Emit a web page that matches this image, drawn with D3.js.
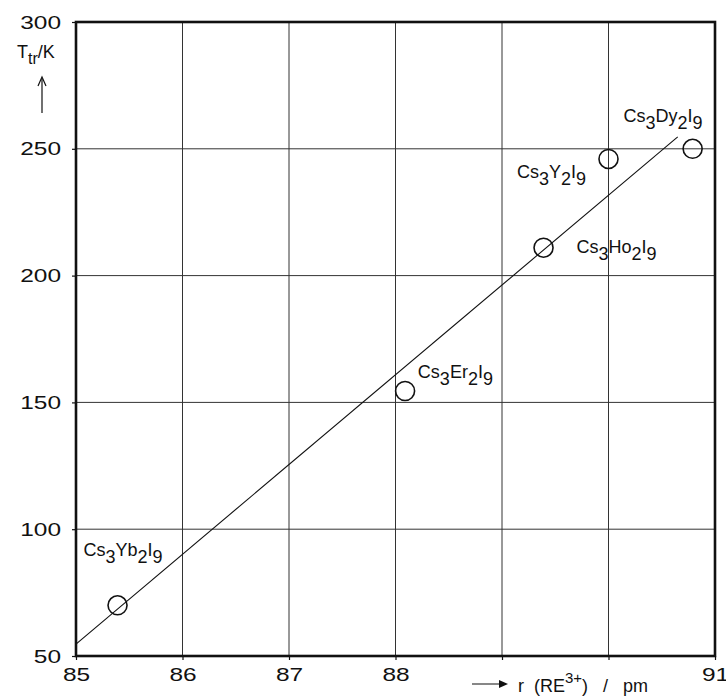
<!DOCTYPE html>
<html>
<head>
<meta charset="utf-8">
<script src="https://cdn.jsdelivr.net/npm/d3@7"></script>
<style>
  body { margin: 0; background: #fff; }
  svg { display: block; font-family: "Liberation Sans", Arial, Helvetica, sans-serif; }
</style>
</head>
<body>
<svg width="726" height="696"></svg>
<script>
// compounds and measured points
const compounds = ["Cs3Yb2I9", "Cs3Er2I9", "Cs3Ho2I9", "Cs3Y2I9", "Cs3Dy2I9"];
const radius = [85.39, 88.09, 89.39, 90.0, 90.79];
const tTrans = [70, 154.5, 211, 246, 250];

// label anchors (data units: left edge, baseline)
const labelR = [85.07, 88.21, 89.70, 89.14, 90.14];
const labelT = [89.4, 159.6, 208.9, 238.5, 260.6];

// straight fit line end points
const fitR = [85, 90.65];
const fitT = [54.7, 254.7];

const xTicks = [85, 86, 87, 88, 89, 90, 91];
const xTickLabels = ["85", "86", "87", "88", "", "", "91"]; // 89, 90 left blank for the axis title
const yTicks = [50, 100, 150, 200, 250, 300];

const svg = d3.select("svg");
const margin = { left: 76, right: 11, top: 22, bottom: 40 };
const W = 726, H = 696;

const x = d3.scaleLinear().domain([85, 91]).range([margin.left, W - margin.right]);
const y = d3.scaleLinear().domain([50, 300]).range([H - margin.bottom, margin.top]);

// grid
const grid = svg.append("g").attr("stroke", "#333").attr("stroke-width", 1);
grid.selectAll("line.v")
  .data(xTicks.slice(1, -1))
  .enter()
  .append("line")
  .attr("x1", d => x(d)).attr("x2", d => x(d))
  .attr("y1", y(50)).attr("y2", y(300));
grid.selectAll("line.h")
  .data(yTicks.slice(1, -1))
  .enter()
  .append("line")
  .attr("x1", x(85)).attr("x2", x(91))
  .attr("y1", d => y(d)).attr("y2", d => y(d));

// axes
const xAxis = svg.append("g")
  .attr("transform", `translate(0,${y(50)})`)
  .call(d3.axisBottom(x).tickValues(xTicks).tickFormat((d, i) => xTickLabels[i])
    .tickSize(4).tickSizeOuter(0).tickPadding(8));
const yAxis = svg.append("g")
  .attr("transform", `translate(${x(85)},0)`)
  .call(d3.axisLeft(y).tickValues(yTicks).tickFormat(d3.format("d"))
    .tickSize(4).tickSizeOuter(0).tickPadding(11));

[xAxis, yAxis].forEach(a => {
  a.select(".domain").remove();
  a.selectAll(".tick line").attr("stroke", "#111").attr("stroke-width", 1.2);
  a.selectAll("text")
    .attr("fill", "#111")
    .style("font-size", "19px")
    .style("font-family", "'Liberation Sans', Arial, sans-serif")
    .each(function () {
      const n = this.textContent.length;
      if (n) d3.select(this).attr("textLength", n * 13.6).attr("lengthAdjust", "spacingAndGlyphs");
    });
});

// frame
svg.append("rect")
  .attr("x", x(85)).attr("y", y(300))
  .attr("width", x(91) - x(85)).attr("height", y(50) - y(300))
  .attr("fill", "none")
  .attr("stroke", "#111")
  .attr("stroke-width", 2.6);

// fit line
svg.append("line")
  .attr("x1", x(fitR[0])).attr("y1", y(fitT[0]))
  .attr("x2", x(fitR[1])).attr("y2", y(fitT[1]))
  .attr("stroke", "#111")
  .attr("stroke-width", 1.1);

// points
svg.append("g")
  .selectAll("circle")
  .data(radius)
  .enter()
  .append("circle")
  .attr("cx", d => x(d))
  .attr("cy", (d, i) => y(tTrans[i]))
  .attr("r", 9.5)
  .attr("fill", "none")
  .attr("stroke", "#111")
  .attr("stroke-width", 1.6);

// formula labels with subscripts
function formula(sel, str, size, sub, shift) {
  const parts = str.match(/\d+|\D+/g);
  let low = false;
  parts.forEach(p => {
    const isNum = /\d/.test(p);
    let dy = 0;
    if (isNum && !low) { dy = shift; low = true; }
    else if (!isNum && low) { dy = -shift; low = false; }
    sel.append("tspan")
      .attr("dy", dy)
      .style("font-size", (isNum ? sub : size) + "px")
      .text(p);
  });
}

compounds.forEach((c, i) => {
  const t = svg.append("text")
    .attr("x", x(labelR[i]))
    .attr("y", y(labelT[i]))
    .attr("fill", "#111");
  formula(t, c, 18, 18, 7);
});

// y axis title
const yt = svg.append("text").attr("x", 17).attr("y", 58).attr("fill", "#111").style("font-size", "18px");
yt.append("tspan").text("T");
yt.append("tspan").attr("dy", 6).style("font-size", "16px").text("tr");
yt.append("tspan").attr("dy", -6).text("/K");

svg.append("line")
  .attr("x1", 42).attr("x2", 42).attr("y1", 113).attr("y2", 79)
  .attr("stroke", "#111").attr("stroke-width", 1.2);
svg.append("path")
  .attr("d", "M38,86 L42,77 L46,86")
  .attr("fill", "none").attr("stroke", "#111").attr("stroke-width", 1.2);

// x axis title
svg.append("line")
  .attr("x1", 472).attr("x2", 506).attr("y1", 684).attr("y2", 684)
  .attr("stroke", "#111").attr("stroke-width", 1.2);
svg.append("path")
  .attr("d", "M499,680 L508,684 L499,688 Z")
  .attr("fill", "#111");

const xt = svg.append("text").attr("x", 518).attr("y", 692).attr("fill", "#111")
  .style("font-size", "18px").style("white-space", "pre");
xt.append("tspan").text("r  (RE");
xt.append("tspan").attr("dy", -9).style("font-size", "15px").text("3+");
xt.append("tspan").attr("dy", 9).text(")   /   pm");
</script>
</body>
</html>
